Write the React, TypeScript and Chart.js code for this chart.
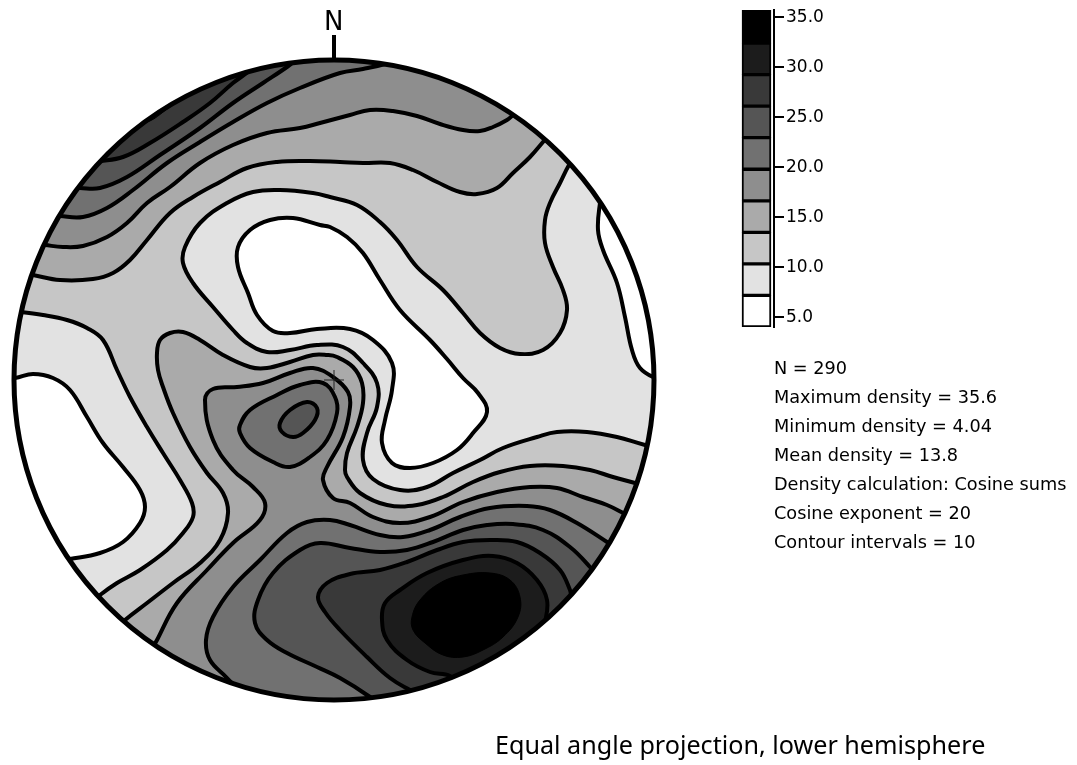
import React, { useEffect, useRef } from "react";
import { Chart, registerables } from "chart.js";

Chart.register(...registerables);

type Pt = [number, number];

// Net coordinates: origin at the net centre, x east, y north. The net radius is 320.
const NET_RADIUS = 320;

const densityLevels = ["#ffffff", "#e2e2e2", "#c6c6c6", "#aaaaaa", "#8e8e8e", "#717171", "#555555", "#393939", "#1c1c1c", "#000000"];
const bandEdges = [4.04, 7.2, 10.35, 13.51, 16.66, 19.82, 22.98, 26.13, 29.29, 32.44, 35.75];
const barTicks = [5, 10, 15, 20, 25, 30, 35];

const northWest3: Pt[] = [[-319,108],[-301,105],[-274,100],[-241,101],[-221,107],[-204,120],[-187,140],[-164,167],[-141,183],[-114,198],[-87,212],[-57,218],[-24,219],[6,218],[29,217],[56,217],[79,210],[103,198],[126,188],[143,186],[163,192],[179,207],[196,223],[209,238],[222,254],[266,380],[-334,380],[-334,130]];
const northWest4: Pt[] = [[-306,137],[-289,135],[-271,133],[-251,134],[-227,143],[-207,157],[-187,177],[-164,193],[-134,217],[-101,235],[-67,247],[-34,252],[-14,257],[16,265],[36,270],[59,269],[83,264],[106,256],[129,250],[146,249],[159,253],[173,260],[179,265],[191,277],[226,380],[-334,380],[-334,160]];
const northWest5: Pt[] = [[-289,166],[-274,164],[-251,163],[-227,172],[-201,190],[-167,217],[-134,238],[-101,258],[-67,277],[-34,292],[6,307],[29,311],[51,316],[66,322],[66,380],[-334,380],[-334,190]];
const northWest6: Pt[] = [[-269,193],[-254,192],[-234,192],[-207,203],[-174,225],[-134,252],[-101,277],[-71,297],[-47,313],[-41,318],[-29,332],[-29,380],[-334,380],[-334,210]];
const northWest7: Pt[] = [[-246,218],[-234,219],[-211,223],[-184,237],[-151,258],[-124,277],[-101,297],[-86,308],[-72,320],[-72,380],[-334,380],[-334,230]];
const northWest8: Pt[] = [[-191,258],[-161,275],[-141,288],[-129,296],[-134,320],[-204,280]];
const west1: Pt[] = [[-329,69],[-314,68],[-291,65],[-267,60],[-247,52],[-231,40],[-217,10],[-204,-17],[-187,-47],[-171,-73],[-154,-100],[-142,-123],[-141,-137],[-151,-153],[-167,-170],[-194,-190],[-217,-203],[-234,-215],[-249,-228],[-334,-320],[-334,80]];
const west0: Pt[] = [[-334,2],[-319,2],[-301,6],[-281,2],[-264,-10],[-247,-37],[-231,-63],[-211,-87],[-194,-110],[-189,-127],[-194,-143],[-211,-162],[-234,-173],[-264,-179],[-279,-181],[-334,-180]];
const central1: Pt[] = [[244,228],[235,215],[226,197],[216,177],[211,160],[211,137],[219,113],[229,90],[233,70],[226,47],[209,30],[186,26],[166,32],[146,47],[129,67],[109,90],[83,113],[63,140],[46,158],[23,175],[-4,183],[-21,187],[-54,190],[-81,188],[-107,177],[-134,157],[-149,133],[-151,117],[-141,97],[-121,73],[-101,50],[-87,37],[-67,28],[-44,30],[-17,35],[9,33],[29,17],[43,-3],[43,-27],[33,-53],[29,-80],[39,-99],[66,-110],[93,-107],[119,-93],[146,-80],[169,-68],[203,-57],[223,-52],[253,-52],[283,-57],[311,-65],[331,-69],[386,-70],[386,280],[266,280]];
const east0: Pt[] = [[269,190],[266,177],[264,150],[269,130],[283,97],[291,63],[298,30],[306,12],[321,2],[336,-2],[366,80],[316,230]];
const central0: Pt[] = [[-14,155],[-41,162],[-64,160],[-84,150],[-96,133],[-96,113],[-86,87],[-77,65],[-61,49],[-44,47],[-17,51],[16,51],[39,40],[58,17],[58,-10],[51,-40],[48,-63],[58,-83],[76,-88],[99,-83],[123,-70],[139,-53],[153,-32],[144,-13],[129,2],[113,21],[96,40],[66,70],[46,100],[29,127],[13,143],[-4,153]];
const south3: Pt[] = [[-222,-253],[-209,-240],[-187,-223],[-161,-203],[-134,-183],[-114,-160],[-106,-133],[-111,-113],[-127,-93],[-144,-67],[-161,-33],[-171,-7],[-176,10],[-177,27],[-174,40],[-164,47],[-151,48],[-134,40],[-111,25],[-84,13],[-67,12],[-44,18],[-21,25],[-7,25],[3,23],[19,13],[28,-3],[29,-23],[23,-47],[13,-73],[11,-90],[13,-97],[26,-113],[53,-125],[83,-125],[109,-117],[139,-102],[166,-92],[196,-86],[229,-86],[256,-90],[279,-97],[301,-103],[318,-108],[406,-120],[406,-385],[-234,-385],[-284,-320]];
const south4: Pt[] = [[-184,-275],[-177,-260],[-157,-223],[-127,-190],[-101,-163],[-74,-140],[-69,-123],[-81,-107],[-101,-90],[-121,-60],[-129,-20],[-121,-9],[-97,-7],[-71,-3],[-44,7],[-21,12],[-1,3],[14,-12],[16,-27],[9,-57],[-7,-87],[-11,-100],[-1,-118],[16,-123],[39,-137],[66,-143],[96,-137],[129,-122],[163,-112],[196,-107],[223,-108],[249,-117],[273,-125],[289,-133],[304,-142],[406,-150],[406,-385],[-184,-385]];
const south5: Pt[] = [[-89,-320],[-107,-298],[-124,-280],[-128,-260],[-121,-237],[-101,-207],[-74,-180],[-47,-153],[-27,-142],[-4,-140],[16,-145],[46,-155],[69,-157],[96,-150],[126,-137],[156,-128],[193,-126],[216,-130],[243,-143],[273,-162],[288,-172],[406,-180],[406,-385],[-89,-385]];
const south6: Pt[] = [[44,-325],[33,-315],[6,-298],[-17,-287],[-47,-273],[-67,-260],[-79,-243],[-76,-220],[-61,-193],[-34,-170],[-14,-163],[16,-168],[46,-172],[73,-170],[99,-162],[129,-150],[153,-145],[179,-144],[209,-150],[236,-167],[256,-187],[266,-200],[406,-220],[406,-385],[44,-385]];
const south7: Pt[] = [[86,-315],[76,-310],[56,-298],[33,-277],[6,-250],[-9,-232],[-16,-217],[-7,-203],[16,-194],[46,-190],[73,-182],[103,-170],[129,-162],[156,-160],[183,-162],[206,-173],[226,-190],[236,-210],[241,-225],[406,-240],[406,-385],[86,-385]];
const south8: Pt[] = [[126,-308],[116,-296],[96,-292],[73,-280],[53,-260],[48,-240],[51,-223],[66,-210],[93,-193],[129,-180],[159,-176],[183,-183],[203,-200],[213,-220],[211,-242],[206,-255],[366,-385],[126,-385]];
const peak9: Pt[] = [[78,-237],[86,-220],[106,-203],[129,-195],[156,-193],[176,-200],[186,-217],[184,-237],[169,-257],[149,-270],[129,-277],[109,-275],[91,-263],[79,-250]];
const island5: Pt[] = [[-94,-45],[-84,-30],[-57,-15],[-34,-5],[-11,-3],[1,-17],[3,-33],[-7,-60],[-24,-77],[-44,-87],[-61,-82],[-84,-68],[-94,-53]];
const island6: Pt[] = [[-54,-43],[-44,-30],[-27,-22],[-17,-28],[-19,-40],[-31,-53],[-41,-57],[-52,-52]];

const contourStack: [Pt[], number][] = [
  [northWest3, 3], [northWest4, 4], [northWest5, 5], [northWest6, 6], [northWest7, 7], [northWest8, 8],
  [west1, 1], [west0, 0], [central1, 1], [east0, 0], [central0, 0],
  [south3, 3], [south4, 4], [south5, 5], [south6, 6], [south7, 7], [south8, 8], [peak9, 9],
  [island5, 5], [island6, 6],
];

const statLines = [
  "N = 290",
  "Maximum density = 35.6",
  "Minimum density = 4.04",
  "Mean density = 13.8",
  "Density calculation: Cosine sums",
  "Cosine exponent = 20",
  "Contour intervals = 10",
];
const northLabel = "N";
const projectionLabel = "Equal angle projection, lower hemisphere";

const FONT = '"DejaVu Sans", sans-serif';

const netPlugin = {
  id: "net",
  afterDatasetsUpdate(chart: any) {
    chart.data.datasets.forEach((ds: any, i: number) => {
      if (!ds.showLine) return;
      const line = chart.getDatasetMeta(i).dataset;
      if (line) {
        line._loop = true;
        line._fullLoop = true;
        line._segments = undefined;
      }
    });
  },
  beforeDatasetsDraw(chart: any) {
    const { ctx, scales } = chart;
    const cx = scales.x.getPixelForValue(0);
    const cy = scales.y.getPixelForValue(0);
    const r = scales.x.getPixelForValue(NET_RADIUS) - cx;
    ctx.save();
    ctx.beginPath();
    ctx.arc(cx, cy, r, 0, Math.PI * 2);
    ctx.clip();
    ctx.fillStyle = densityLevels[2];
    ctx.fill();
  },
  afterDatasetsDraw(chart: any) {
    const { ctx, scales } = chart;
    ctx.restore();
    const cx = scales.x.getPixelForValue(0);
    const cy = scales.y.getPixelForValue(0);
    const r = scales.x.getPixelForValue(NET_RADIUS) - cx;
    ctx.save();
    ctx.strokeStyle = "#000";
    ctx.lineWidth = 5;
    ctx.beginPath();
    ctx.arc(cx, cy, r, 0, Math.PI * 2);
    ctx.stroke();
    ctx.lineWidth = 4;
    ctx.beginPath();
    ctx.moveTo(cx, scales.y.getPixelForValue(NET_RADIUS));
    ctx.lineTo(cx, scales.y.getPixelForValue(NET_RADIUS + 25));
    ctx.stroke();
    ctx.restore();
  },
};

export default function App() {
  const netRef = useRef<HTMLCanvasElement>(null);
  const barRef = useRef<HTMLCanvasElement>(null);

  useEffect(() => {
    document.body.style.margin = "0";
    const net = new Chart(netRef.current!, {
      type: "scatter",
      plugins: [netPlugin],
      data: {
        datasets: [
          {
            data: [{ x: 0, y: 0 }],
            showLine: false,
            pointStyle: "cross",
            pointRadius: 10,
            pointBorderWidth: 1,
            pointBorderColor: "#222",
          },
          // Chart.js paints the first dataset last, so the stack is reversed.
          ...[...contourStack].reverse().map(([pts, level]) => ({
            data: pts.map(([x, y]) => ({ x, y })),
            showLine: true,
            fill: "shape",
            backgroundColor: densityLevels[level],
            borderColor: "#000",
            borderWidth: pts === northWest8 || pts === peak9 ? 1 : 4,
            tension: 0.4,
            pointRadius: 0,
            clip: false,
          })),
        ] as any,
      },
      options: {
        animation: false,
        responsive: false,
        devicePixelRatio: 1,
        events: [],
        layout: { padding: 0, autoPadding: false },
        plugins: { legend: { display: false }, tooltip: { enabled: false }, title: { display: false } },
        scales: {
          x: { type: "linear", display: false, min: -334, max: 743 },
          y: { type: "linear", display: false, min: -385, max: 380 },
        },
      },
    });

    const bar = new Chart(barRef.current!, {
      type: "bar",
      data: {
        labels: [""],
        datasets: densityLevels.map((colour, i) => ({
          data: [[bandEdges[i], bandEdges[i + 1]]],
          backgroundColor: colour,
          borderColor: "#000",
          borderWidth: 2,
          borderSkipped: false,
          barThickness: 29,
          grouped: false,
        })) as any,
      },
      options: {
        animation: false,
        responsive: false,
        devicePixelRatio: 1,
        events: [],
        layout: { padding: { top: 10, bottom: 13, left: 4, right: 0 }, autoPadding: false },
        plugins: { legend: { display: false }, tooltip: { enabled: false } },
        scales: {
          x: { display: false },
          y: {
            position: "right",
            min: bandEdges[0],
            max: bandEdges[bandEdges.length - 1],
            afterBuildTicks: (s: any) => { s.ticks = barTicks.map((value) => ({ value })); },
            afterFit: (s: any) => { s.width = 70; s.paddingTop = 0; s.paddingBottom = 0; },
            border: { display: true, color: "#000", width: 2 },
            grid: { drawOnChartArea: false, drawTicks: true, tickLength: 10, color: "#000", lineWidth: 2 },
            ticks: {
              padding: 2,
              color: "#000",
              font: { family: FONT, size: 17 },
              callback: (v: any) => Number(v).toFixed(1),
            },
          },
        },
      } as any,
    });

    return () => { net.destroy(); bar.destroy(); };
  }, []);

  return (
    <div style={{ position: "absolute", left: 0, top: 0, width: 1077, height: 765, overflow: "hidden", background: "#fff", fontFamily: FONT, color: "#000" }}>
      <canvas ref={netRef} width={1077} height={765} style={{ position: "absolute", left: 0, top: 0 }} />
      <canvas ref={barRef} width={109} height={340} style={{ position: "absolute", left: 735, top: 0 }} />
      <div style={{ position: "absolute", left: 324, top: 3, fontSize: 26, lineHeight: "36px" }}>{northLabel}</div>
      {statLines.map((t, i) => (
        <div key={t} style={{ position: "absolute", left: 774, top: 354 + i * 29, fontSize: 17.7, lineHeight: "29px", whiteSpace: "nowrap" }}>{t}</div>
      ))}
      <div style={{ position: "absolute", left: 495, top: 724, fontFamily: '"Noto Sans", sans-serif', fontSize: 25.15, lineHeight: "40px", whiteSpace: "nowrap" }}>{projectionLabel}</div>
    </div>
  );
}
